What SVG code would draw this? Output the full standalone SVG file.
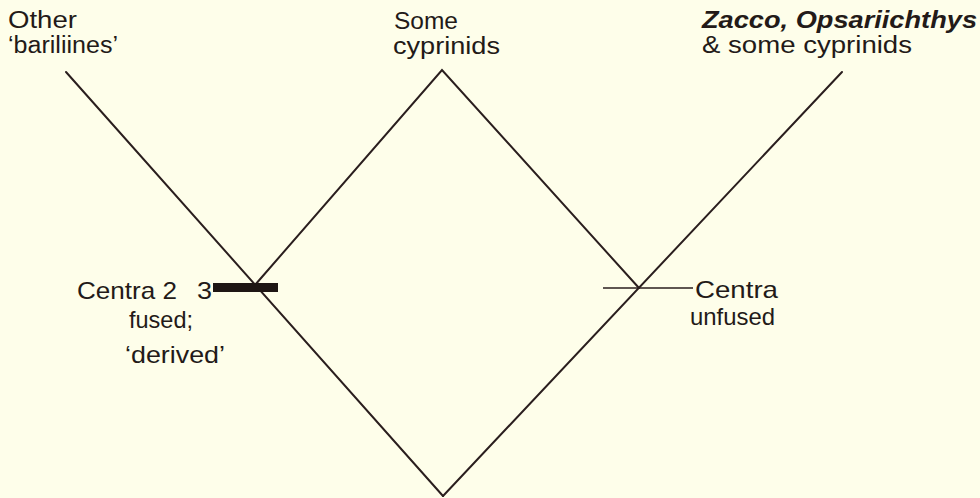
<svg xmlns="http://www.w3.org/2000/svg" width="980" height="498" viewBox="0 0 980 498">
<style>
.bg{fill:#FEFEEA}
.ln{stroke:#2a1e1e;stroke-width:2;fill:none;stroke-linecap:round}
.tk{stroke:#2a1e1e;stroke-width:1.5;fill:none}
.t{font-family:"Liberation Sans",Arial,sans-serif;fill:#231a18}
.up{font-size:23px}
.lo{font-size:24px}
.it{font-style:italic;font-weight:bold}
</style>
<rect class="bg" x="0" y="0" width="980" height="498"/>
<g id="connectors">
<line class="ln" x1="66" y1="72" x2="443" y2="496"/>
<line class="ln" x1="842" y1="72" x2="443" y2="496"/>
<polyline class="ln" points="255,285 442,70 639,288"/>
<line class="tk" x1="603" y1="288" x2="693" y2="288"/>
<rect x="213" y="283" width="65" height="9" fill="#1e1614"/>
</g>
<g id="node-other">
<text class="t up" x="8" y="28" textLength="69" lengthAdjust="spacingAndGlyphs">Other</text>
<text class="t up" x="8" y="53" textLength="110" lengthAdjust="spacingAndGlyphs">‘bariliines’</text>
</g>
<g id="node-some">
<text class="t up" x="394" y="29" textLength="64" lengthAdjust="spacingAndGlyphs">Some</text>
<text class="t up" x="393" y="54" textLength="107" lengthAdjust="spacingAndGlyphs">cyprinids</text>
</g>
<g id="node-zacco">
<text class="t up it" x="702" y="28" textLength="275" lengthAdjust="spacingAndGlyphs">Zacco, Opsariichthys</text>
<text class="t up" x="702" y="53" textLength="210" lengthAdjust="spacingAndGlyphs">&amp; some cyprinids</text>
</g>
<g id="label-fused">
<text class="t lo" x="77" y="299" textLength="100" lengthAdjust="spacingAndGlyphs">Centra 2</text>
<text class="t lo" x="197" y="299" textLength="15" lengthAdjust="spacingAndGlyphs">3</text>
<text class="t lo" x="129" y="328" textLength="64" lengthAdjust="spacingAndGlyphs">fused;</text>
<text class="t lo" x="125" y="363" textLength="100" lengthAdjust="spacingAndGlyphs">‘derived’</text>
</g>
<g id="label-unfused">
<text class="t lo" x="695" y="298" textLength="83" lengthAdjust="spacingAndGlyphs">Centra</text>
<text class="t lo" x="690" y="325" textLength="85" lengthAdjust="spacingAndGlyphs">unfused</text>
</g>
</svg>
